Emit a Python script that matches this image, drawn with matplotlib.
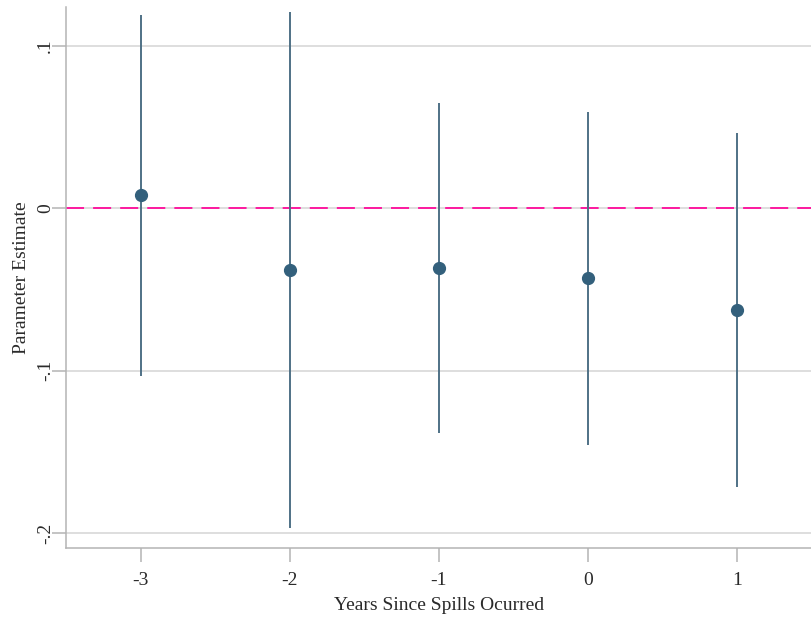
import matplotlib
matplotlib.use("Agg")
import matplotlib.pyplot as plt

# event-study estimates
years = [-3, -2, -1, 0, 1]
estimates = [0.0078, -0.0382, -0.0371, -0.0433, -0.0628]
ci_low = [-0.1034, -0.1967, -0.1383, -0.1458, -0.1715]
ci_high = [0.1188, 0.1206, 0.0644, 0.0593, 0.0460]

ytick_vals = [-0.2, -0.1, 0, 0.1]
ytick_labels = ["-.2", "-.1", "0", ".1"]

plt.rcParams["font.family"] = ["Liberation Serif", "DejaVu Serif"]

fig = plt.figure(figsize=(8.12, 6.18), dpi=100)
ax = fig.add_axes([66 / 812, 70 / 618, 746 / 812, 541 / 618])

ax.set_xlim(-3.5, 1.5)
ax.set_ylim(-0.2092, 0.1237)

for y in ytick_vals:
    ax.axhline(y, color="#d4d4d4", lw=1.1, zorder=0)
ax.axhline(0, color="#ff0a9a", lw=1.3, ls=(0, (10, 5)), zorder=1)

ax.vlines(years, ci_low, ci_high, color="#4f7186", lw=1.4, zorder=2)
ax.plot(years, estimates, "o", color="#33607c", ms=8.5, zorder=3)

ax.set_xticks(years)
ax.set_xticklabels([str(v) for v in years])
ax.set_yticks(ytick_vals)
ax.set_yticklabels(ytick_labels, rotation=90, va="center")

for side in ["top", "right"]:
    ax.spines[side].set_visible(False)
for side in ["left", "bottom"]:
    ax.spines[side].set_color("#b4b4b4")
    ax.spines[side].set_linewidth(1.1)

ax.tick_params(axis="both", colors="#b4b4b4", labelcolor="#2a2a2a",
               length=10, width=1.1, labelsize=14)
ax.tick_params(axis="x", pad=7)
ax.tick_params(axis="y", pad=-1.5)

ax.set_xlabel("Years Since Spills Ocurred", fontsize=14, color="#2a2a2a", labelpad=6)
ax.set_ylabel("Parameter Estimate", fontsize=14, color="#2a2a2a", labelpad=5)

fig.savefig("out.png", dpi=100)
